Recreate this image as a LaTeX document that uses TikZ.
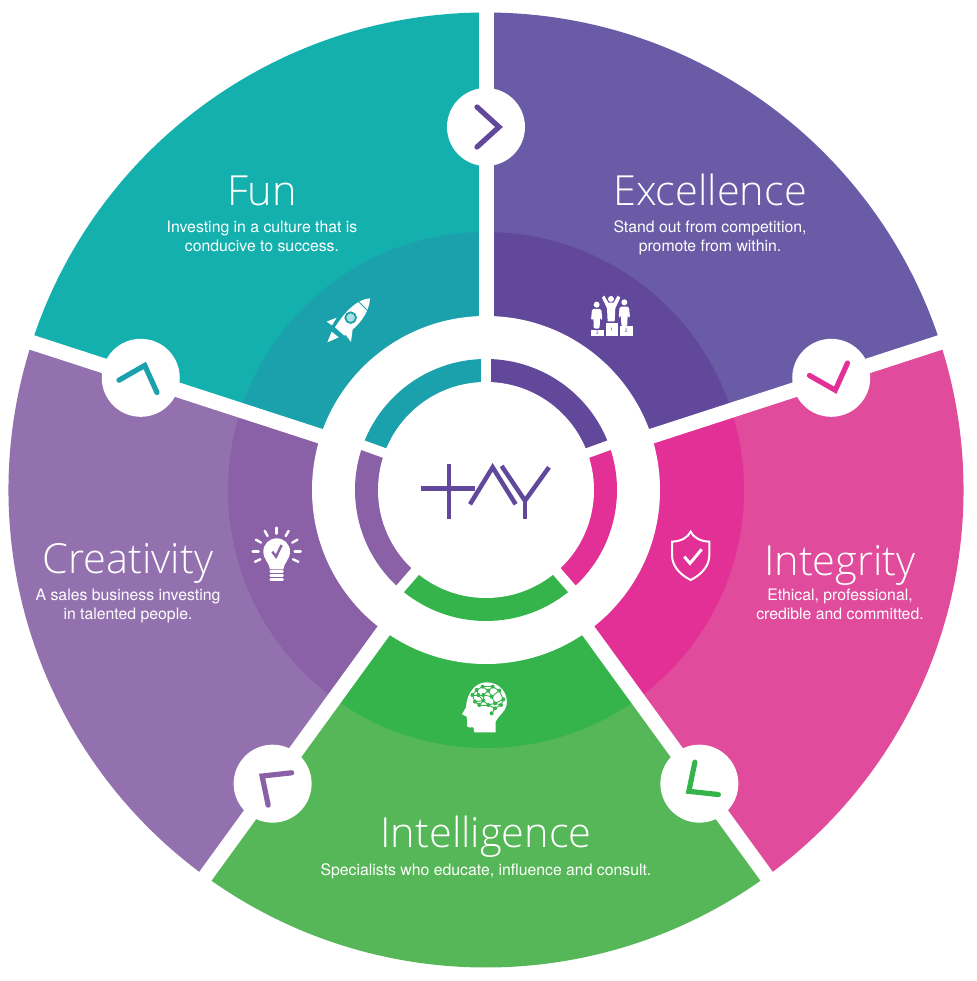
\documentclass[tikz,border=0pt]{standalone}
\usepackage{fontspec}
\usetikzlibrary{calc,positioning}
\setmainfont{TeX Gyre Heros}
\newfontfamily\titlefont{Open Sans Light}
\definecolor{tealsoft}{HTML}{13B0AD}
\definecolor{tealdeep}{HTML}{1AA1AB}
\definecolor{violetsoft}{HTML}{6A5BA6}
\definecolor{violetdeep}{HTML}{61489B}
\definecolor{pinksoft}{HTML}{E04B9B}
\definecolor{pinkdeep}{HTML}{E23096}
\definecolor{greensoft}{HTML}{55B757}
\definecolor{greendeep}{HTML}{35B44B}
\definecolor{lilacsoft}{HTML}{9271AE}
\definecolor{lilacdeep}{HTML}{8A60A6}
\tikzset{
  sectortitle/.style={text=white,inner sep=0pt,anchor=base,font=\titlefont\fontsize{41.5}{42}\selectfont},
  sectornote/.style={text=white,inner sep=0pt,align=center,font=\fontsize{15.8}{19}\selectfont},
  badge/.style={circle,fill=white,minimum size=78pt,inner sep=0pt},
  chevron/.style={line width=5.2pt,line cap=round},
  iconframe/.style 2 args={shift={(#1-486,490-#2)},x=0.3333pt,y=-0.3333pt},
}
\begin{document}
\begin{tikzpicture}[x=1pt,y=1pt]
  \useasboundingbox (-486,-491) rectangle (490,490);
  % outer and inner bands
  \foreach \ang/\soft/\deep in {90/tealsoft/tealdeep,18/violetsoft/violetdeep,-54/pinksoft/pinkdeep,-126/greensoft/greendeep,162/lilacsoft/lilacdeep} {
    \fill[\soft] (0,0) -- (\ang:477.5) arc[start angle=\ang,delta angle=72,radius=477.5] -- cycle;
    \fill[\deep] (0,0) -- (\ang:258) arc[start angle=\ang,delta angle=72,radius=258] -- cycle;
  }
  \foreach \ang in {90,18,-54,-126,162}
    \draw[white,line width=15pt] (0,0) -- (\ang:490);
  \fill[white] (0,0) circle[radius=174];
  % small ring, its gaps do not line up with the bands
  \foreach \ang/\span/\deep in {90/70/tealdeep,20/70/violetdeep,-49/69/pinkdeep,-131/82/greendeep,160/69/lilacdeep}
    \fill[\deep] (0,0) -- (\ang:131) arc[start angle=\ang,delta angle=\span,radius=131] -- cycle;
  \foreach \ang in {90,20,-49,-131,160}
    \draw[white,line width=10pt] (0,0) -- (\ang:140);
  \fill[white] (0,0) circle[radius=108];
  % badges
  \foreach \ang/\tip in {90/violetdeep,18/pinkdeep,-54/greendeep,-126/lilacdeep,162/tealdeep} {
    \node[badge] (badge\ang) at (\ang:363) {};
    \draw[chevron,\tip,shift={(\ang:363)},rotate=\ang-90] (-9,20) -- (13,0) -- (-9,-20);
  }
  % logo
  \begin{scope}[iconframe={310}{310},violetdeep,line width=4.5pt]
    \draw (333,535) -- (495,535);
    \draw (417,461) -- (417,627);
    \draw (480,583) -- (548,472) -- (617,583);
    \draw (575,468) -- (645,572) -- (717,472);
    \draw (645,572) -- (645,627);
  \end{scope}
  % rocket
  \begin{scope}[iconframe={290}{280}]
    \fill[white] (240,55) .. controls (200,58) and (165,95) .. (135,142) -- (163,167) .. controls (205,140) and (238,100) .. (240,55) -- cycle;
    \fill[white] (110,125) -- (140,113) -- (126,136) -- cycle;
    \fill[white] (183,186) -- (188,148) -- (165,162) -- cycle;
    \fill[white] (112,187) -- (125,155) -- (146,172) -- cycle;
    \draw[tealdeep,line width=0.8pt] (204,63) -- (232,91);
    \draw[tealdeep,fill=tealdeep!35!white,line width=1.8pt] (182,113) circle[radius=16];
  \end{scope}
  % podium
  \begin{scope}[iconframe={580}{290},white]
    \foreach \dx/\dy in {0/0,83/-7} {
      \begin{scope}[xshift=\dx*0.3333pt,yshift=-\dy*0.3333pt]
        \fill (50,44) circle[radius=9];
        \fill[rounded corners=1.5pt] (33,90) -- (36,57) -- (64,57) -- (67,90) -- (61,90) -- (60,72) -- (59,116) -- (41,116) -- (40,72) -- (39,90) -- cycle;
      \end{scope}
    }
    \fill (93,27) circle[radius=9];
    \fill (66,23) -- (73,17) -- (85,38) -- (101,38) -- (113,17) -- (121,23) -- (106,55) -- (104,94) -- (83,94) -- (81,55) -- cycle;
    \fill (33,120) rectangle (72,138);
    \fill (77,98) rectangle (114,138);
    \fill (120,108) rectangle (158,138);
    \node[text=violetdeep,font=\fontsize{5}{5}\selectfont,inner sep=0pt] (rank3) at (52,129) {3};
    \node[text=violetdeep,font=\fontsize{5}{5}\selectfont,inner sep=0pt] (rank1) at (95,118) {1};
    \node[text=violetdeep,font=\fontsize{5}{5}\selectfont,inner sep=0pt] (rank2) at (139,123) {2};
  \end{scope}
  % shield
  \begin{scope}[iconframe={660}{520}]
    \draw[white,line width=2pt] (92,35) .. controls (100,52) and (120,64) .. (148,65) -- (148,105) .. controls (148,140) and (122,165) .. (92,180) .. controls (62,165) and (36,140) .. (36,105) -- (36,65) .. controls (64,64) and (84,52) .. (92,35) -- cycle;
    \draw[white,line width=3pt] (73,110) -- (90,130) -- (125,88);
  \end{scope}
  % bulb
  \begin{scope}[iconframe={240}{520},white]
    \fill (90,148) .. controls (88,128) and (70,118) .. (70,95) .. controls (70,72) and (88,55) .. (110,55) .. controls (132,55) and (150,72) .. (150,95) .. controls (150,118) and (132,128) .. (130,148) -- cycle;
    \foreach \yy in {155,167,178}
      \draw[line width=2.4pt,line cap=round] (92,\yy) -- (128,\yy);
    \foreach \ang in {0,-30,-60,-90,-120,-150,180,155,25}
      \draw[line width=2.4pt,line cap=round] ($(110,95)+(\ang:54)$) -- ($(110,95)+(\ang:72)$);
    \draw[lilacdeep,line width=2.4pt] (97,95) -- (108,110) -- (125,75);
  \end{scope}
  % head
  \begin{scope}[iconframe={440}{670}]
    \fill[white] (103,187) -- (100,172) -- (85,172) .. controls (80,170) and (80,165) .. (82,160) -- (80,140) -- (66,133) -- (78,112) .. controls (80,70) and (105,37) .. (140,37) .. controls (180,37) and (205,70) .. (200,105) .. controls (197,125) and (172,140) .. (167,155) -- (167,187) -- cycle;
    \foreach \n/\xx/\yy in {a/97/75,b/110/60,c/128/50,d/158/50,e/178/62,f/190/88,g/183/105,h/165/100,i/145/62,j/155/80,k/130/75,l/115/75,m/105/95,n/130/92,o/145/105,p/118/105,q/165/115,r/155/130} {
      \coordinate (brain\n) at (\xx,\yy);
      \fill[greendeep] (brain\n) circle[radius=6];
    }
    \foreach \p/\q in {a/b,b/c,c/i,c/d,d/e,e/f,f/g,g/h,g/q,q/o,q/r,o/p,p/m,m/a,a/l,l/k,k/i,i/d,i/j,j/e,j/h,j/k,k/n,n/l,n/m,n/o,o/h,h/f,b/l,p/n}
      \draw[greendeep,line width=0.9pt] (brain\p) -- (brain\q);
  \end{scope}
  % labels
  \node[sectortitle] (funtitle) at (262-486,490-206) {Fun};
  \node[sectornote,below=15pt of funtitle.base,anchor=north] (funnote) {Investing in a culture that is\\conducive to success.};
  \node[sectortitle] (exceltitle) at (710-486,490-206) {Excellence};
  \node[sectornote,below=15pt of exceltitle.base,anchor=north] (excelnote) {Stand out from competition,\\promote from within.};
  \node[sectortitle] (integtitle) at (840-486,490-576) {Integrity};
  \node[sectornote,below=13pt of integtitle.base,anchor=north] (integnote) {Ethical, professional,\\credible and committed.};
  \node[sectortitle] (intelltitle) at (486-486,490-847) {Intelligence};
  \node[sectornote,below=16pt of intelltitle.base,anchor=north] (intellnote) {Specialists who educate, influence and consult.};
  \node[sectortitle] (creattitle) at (128-486,490-574) {Creativity};
  \node[sectornote,below=15pt of creattitle.base,anchor=north] (creatnote) {A sales business investing\\in talented people.};
\end{tikzpicture}
\end{document}
